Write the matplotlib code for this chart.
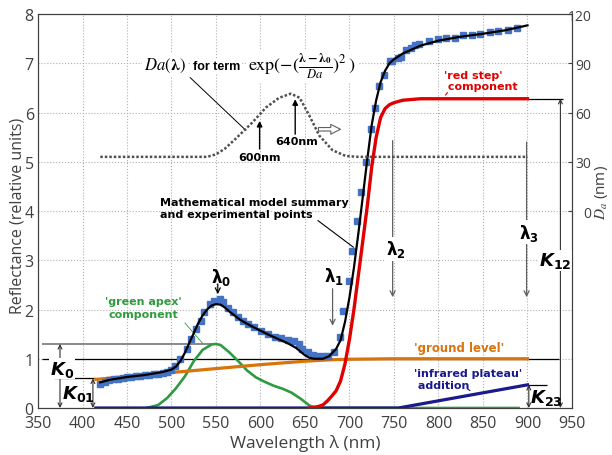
import matplotlib.pyplot as plt

# experimental points (blue squares)
exp_wl = [420, 425, 430, 435, 440, 445, 450, 455, 460, 465, 470, 475, 480, 485, 490,
          495, 500, 504, 509, 517, 522, 528, 533, 537, 543, 548, 554, 558, 563, 569,
          575, 580, 586, 593, 601, 608, 616, 623, 631, 638, 643, 647, 653, 659, 664,
          670, 676, 683, 689, 693, 699, 703, 708, 713, 718, 724, 729, 733, 739, 745,
          748, 754, 758, 763, 769, 774, 778, 789, 799, 808, 819, 828, 838, 847, 858,
          867, 878, 888]
exp_refl = [0.49, 0.53, 0.56, 0.58, 0.59, 0.60, 0.62, 0.63, 0.64, 0.65, 0.66, 0.67, 0.69, 0.70, 0.72,
            0.74, 0.78, 0.86, 1.00, 1.20, 1.40, 1.60, 1.77, 1.94, 2.11, 2.18, 2.21, 2.15, 2.04, 1.94,
            1.84, 1.77, 1.70, 1.64, 1.57, 1.50, 1.45, 1.42, 1.39, 1.37, 1.30, 1.20, 1.13, 1.08, 1.05,
            1.05, 1.05, 1.14, 1.45, 1.96, 2.57, 3.18, 3.79, 4.38, 4.99, 5.66, 6.10, 6.54, 6.77, 7.05,
            7.05, 7.10, 7.12, 7.26, 7.32, 7.37, 7.40, 7.46, 7.49, 7.51, 7.51, 7.58, 7.58, 7.59, 7.63,
            7.65, 7.67, 7.72]

# mathematical model summary (black)
model_wl = [420, 430, 440, 450, 460, 470, 480, 490, 500, 505, 510, 515, 520, 525, 530,
            535, 540, 545, 550, 555, 560, 565, 570, 575, 580, 590, 600, 610, 620, 630,
            640, 650, 655, 660, 670, 677, 685, 690, 695, 700, 705, 710, 715, 720, 725,
            730, 735, 740, 745, 750, 760, 770, 780, 790, 800, 825, 850, 875, 900]
model_refl = [0.52, 0.57, 0.60, 0.63, 0.65, 0.67, 0.70, 0.73, 0.78, 0.84, 0.95, 1.12, 1.32, 1.52, 1.72,
              1.88, 2.00, 2.08, 2.11, 2.10, 2.04, 1.96, 1.89, 1.82, 1.76, 1.66, 1.57, 1.48, 1.40, 1.32,
              1.22, 1.07, 1.02, 1.00, 1.00, 1.05, 1.20, 1.38, 1.75, 2.25, 2.85, 3.55, 4.30, 5.05, 5.75,
              6.25, 6.62, 6.85, 7.00, 7.08, 7.20, 7.28, 7.36, 7.41, 7.46, 7.54, 7.60, 7.67, 7.77]

# 'green apex' component
green_wl = [472, 485, 495, 505, 515, 525, 535, 545, 550, 555, 565, 575, 585, 595, 605,
            615, 625, 635, 645, 655, 662, 750, 890]
green_refl = [0.0, 0.06, 0.20, 0.40, 0.64, 0.95, 1.18, 1.29, 1.30, 1.28, 1.13, 0.95, 0.76, 0.62, 0.53,
              0.45, 0.39, 0.31, 0.19, 0.05, 0.0, 0.0, 0.0]

# 'ground level'
ground_wl = [415, 450, 500, 550, 600, 650, 680, 700, 750, 900]
ground_refl = [0.58, 0.64, 0.72, 0.80, 0.88, 0.95, 0.98, 0.99, 1.00, 1.00]

# 'red step' component
red_wl = [655, 665, 670, 675, 680, 685, 690, 695, 700, 705, 710, 715, 720, 725, 730,
          735, 740, 745, 750, 760, 780, 900]
red_refl = [0.0, 0.03, 0.06, 0.14, 0.24, 0.35, 0.55, 0.90, 1.40, 2.00, 2.70, 3.40, 4.10, 4.90, 5.50,
            5.90, 6.08, 6.16, 6.20, 6.25, 6.28, 6.28]

# 'infrared plateau' addition
ir_wl = [415, 755, 900]
ir_refl = [0.0, 0.0, 0.47]

# Da(lambda), right axis (nm)
da_wl = [420, 540, 550, 560, 572, 591, 606, 621, 634, 644, 655, 666, 681, 696, 710, 900]
da_nm = [33, 33, 34.5, 38, 44, 54, 63, 69, 71.5, 69, 58, 46, 37, 33.5, 33, 33]

x_ticks = list(range(350, 951, 50))
y_ticks = list(range(0, 9))
da_ticks = [0, 30, 60, 90, 120]

# levels of the K constants
k0_level = 1.3
k01_level = 0.6
k12_level = 6.28
k23_level = 0.47

BLUE = '#4472C4'
RED = '#e00000'
ORANGE = '#d9730d'
GREEN = '#2e9b3f'
NAVY = '#1a1a8c'
GRAY = '#606060'
TXT = '#404040'

fig = plt.figure(figsize=(6.12, 4.56), dpi=100)
ax = fig.add_axes([0.0621, 0.1031, 0.8725, 0.8639])
ax2 = ax.twinx()

ax.set_xlim(350, 950)
ax.set_ylim(0, 8)
ax.set_xticks(x_ticks)
ax.set_yticks(y_ticks)
ax.grid(True, ls=':', color='#b0b0b0', lw=0.8)
ax.tick_params(length=0, labelsize=11.5, colors=TXT, pad=3)
ax.tick_params(axis='x', pad=5)
for lab in ax.get_xticklabels() + ax.get_yticklabels():
    lab.set_family('Open Sans')
for sp in ax.spines.values():
    sp.set_color(TXT)

ax.set_xlabel('Wavelength λ (nm)', family='Open Sans', fontsize=12.5, color=TXT)
ax.xaxis.set_label_coords(0.5, -0.065)
ax.set_ylabel('Reflectance (relative units)', family='Open Sans', fontsize=11.5, color=TXT)
ax.yaxis.set_label_coords(-0.024, 0.49)

ax2.set_ylim(-120, 120)
ax2.set_yticks(da_ticks)
ax2.tick_params(direction='in', length=3, labelsize=10, colors=TXT, pad=14)
for lab in ax2.get_yticklabels():
    lab.set_family(['Liberation Sans Narrow', 'Open Sans'])
    lab.set_ha('right')
for sp in ax2.spines.values():
    sp.set_color(TXT)
ax2.set_ylabel(r'$D_a$ (nm)', family='Open Sans', fontsize=11, color=TXT, math_fontfamily='stix')
ax2.yaxis.set_label_coords(1.04, 0.55)

# reference lines
ax.hlines(1.0, 355, 935, color='black', lw=0.9)
ax.hlines(k0_level, 355, 545, color='#808080', lw=1.3)
ax.hlines(k01_level, 368, 415, color='black', lw=0.9)
ax.hlines(k12_level, 900, 940, color='black', lw=0.9)
ax.hlines(k23_level, 900, 922, color='black', lw=0.9)

# curves
ax.plot(ground_wl, ground_refl, color=ORANGE, lw=2.3, zorder=3)
ax.plot(ir_wl, ir_refl, color=NAVY, lw=2.3, zorder=3)
ax.plot(green_wl, green_refl, color=GREEN, lw=1.9, zorder=2.9)
ax.plot(exp_wl, exp_refl, ls='none', marker='s', ms=4.5, color=BLUE, zorder=4)
ax.plot(model_wl, model_refl, color='black', lw=1.6, zorder=5)
ax.plot(red_wl, red_refl, color=RED, lw=2.4, zorder=5)
ax2.plot(da_wl, da_nm, color='#505050', ls=(0, (1.0, 0.8)), lw=1.8)

# K arrows
dbl = dict(arrowstyle='<->', color='#303030', lw=0.8, mutation_scale=7, shrinkA=0, shrinkB=0)
ax.annotate('', xy=(374.7, 0), xytext=(374.7, k0_level), arrowprops=dbl)
ax.annotate('', xy=(411.7, 0), xytext=(411.7, k01_level), arrowprops=dbl)
ax.annotate('', xy=(937, 0), xytext=(937, k12_level), arrowprops=dbl)
ax.annotate('', xy=(901.5, 0), xytext=(901.5, k23_level), arrowprops=dbl)
kfont = dict(fontsize=13, fontweight='bold', fontstyle='italic', ha='center', va='center',
             math_fontfamily='dejavusans')
ax.text(377, 0.8, r'K$_\mathbf{0}$', bbox=dict(fc='white', ec='none', pad=0.5), **kfont)
ax.text(395, 0.3, r'K$_\mathbf{01}$', **kfont)
ax.text(931, 3.0, r'K$_\mathbf{12}$', bbox=dict(fc='white', ec='none', pad=0.5), **kfont)
ax.text(921, 0.23, r'K$_\mathbf{23}$', **kfont)

# lambda arrows
lfont = dict(fontsize=12, fontweight='bold', ha='center', va='center', math_fontfamily='dejavusans')
down = dict(arrowstyle='->', color=GRAY, lw=0.9, mutation_scale=9, shrinkA=0, shrinkB=0)
ax.annotate('', xy=(552, 2.31), xytext=(552, 2.52), arrowprops=dict(down, color='black'))
ax.text(556, 2.68, r'λ$_\mathbf{0}$', **lfont)
ax.annotate('', xy=(681, 1.67), xytext=(681, 2.42), arrowprops=down)
ax.text(683, 2.69, r'λ$_\mathbf{1}$', **lfont)
ax.annotate('', xy=(748.5, 2.25), xytext=(748.5, 5.43), arrowprops=down)
ax.text(752, 3.23, r'λ$_\mathbf{2}$', bbox=dict(fc='white', ec='none', pad=1), **lfont)
ax.annotate('', xy=(899, 2.25), xytext=(899, 5.4), arrowprops=down)
ax.text(901.6, 3.57, r'λ$_\mathbf{3}$', bbox=dict(fc='white', ec='none', pad=1), **lfont)

# Da annotation
wbox = dict(fc='white', ec='none', pad=1.5)
ax.text(469, 6.96, r'$Da(\mathbf{\lambda})$', fontsize=12, va='center', ha='left',
        math_fontfamily='stix', bbox=wbox)
ax.text(524, 6.94, 'for term', fontsize=9, fontweight='bold', family='Liberation Sans',
        va='center', ha='left', bbox=wbox)
ax.text(586, 6.96, r'$\exp(-(\frac{\mathbf{\lambda-\lambda_0}}{Da})^2\,)$', fontsize=13,
        va='center', ha='left', math_fontfamily='stix', bbox=wbox)
ax.annotate('', xy=(585.8, 5.6), xytext=(518.6, 6.75),
            arrowprops=dict(arrowstyle='-', color='black', lw=0.7))
up = dict(arrowstyle='-|>', color='black', lw=1.0, mutation_scale=8, shrinkA=0, shrinkB=0)
ax.annotate('', xy=(599, 5.83), xytext=(599, 5.26), arrowprops=up)
ax.text(599, 5.1, '600nm', fontsize=8, fontweight='bold', ha='center', va='center')
ax.annotate('', xy=(639, 6.27), xytext=(639, 5.56), arrowprops=up)
ax.text(641, 5.42, '640nm', fontsize=8, fontweight='bold', ha='center', va='center')
ax.annotate('', xy=(693, 5.66), xytext=(662, 5.66),
            arrowprops=dict(arrowstyle='simple,head_length=0.7,head_width=0.7,tail_width=0.25',
                            fc='white', ec=GRAY, lw=0.8))

# component labels
ax.text(487, 4.06, 'Mathematical model summary\nand experimental points', fontsize=8,
        fontweight='bold', ha='left', va='center', linespacing=1.3)
ax.annotate('', xy=(707, 3.23), xytext=(662, 3.84),
            arrowprops=dict(arrowstyle='-', color='black', lw=0.8))
ax.text(468, 2.04, "'green apex'\ncomponent", fontsize=8, fontweight='bold', color=GREEN,
        ha='center', va='center', linespacing=1.3)
ax.annotate('', xy=(537, 1.27), xytext=(513, 1.77),
            arrowprops=dict(arrowstyle='-', color=GREEN, lw=0.6))
ax.text(823, 1.23, "'ground level'", fontsize=8.5, fontweight='bold', color=ORANGE,
        ha='center', va='center')
ax.text(773, 0.59, "'infrared plateau'\n addition", fontsize=8, fontweight='bold', color=NAVY,
        ha='left', va='center', linespacing=1.2)
ax.annotate('', xy=(838, 0.32), xytext=(830, 0.42),
            arrowprops=dict(arrowstyle='-', color=NAVY, lw=0.8))
ax.text(806, 6.65, "'red step'\n component", fontsize=8, fontweight='bold', color=RED,
        ha='left', va='center', linespacing=1.2)
ax.annotate('', xy=(806, 6.31), xytext=(812, 6.45),
            arrowprops=dict(arrowstyle='-', color=RED, lw=0.8))

fig.savefig('out.png', dpi=100)
